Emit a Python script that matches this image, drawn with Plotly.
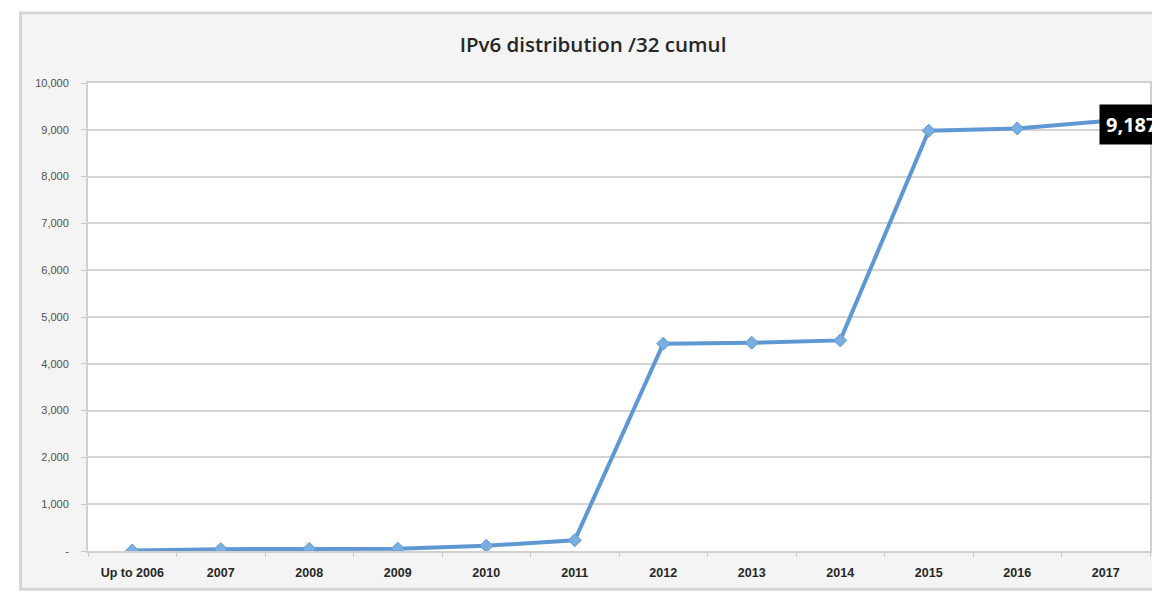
import plotly.graph_objects as go

categories = ["Up to 2006", "2007", "2008", "2009", "2010", "2011",
              "2012", "2013", "2014", "2015", "2016", "2017"]
values = [10, 40, 45, 50, 110, 230, 4430, 4450, 4500, 8980, 9030, 9187]
y_tickvals = [0, 1000, 2000, 3000, 4000, 5000, 6000, 7000, 8000, 9000, 10000]
y_ticktext = ["-", "1,000", "2,000", "3,000", "4,000", "5,000",
              "6,000", "7,000", "8,000", "9,000", "10,000"]
title_text = "IPv6 distribution /32 cumul"
last_label = "9,187"

OFF = 8  # page body margin
W, H = 1160 - OFF, 592 - OFF
# target page coordinates of plot area: x 87.5..1150, y 83..550.7
L = 87.5 - OFF
T = 83 - OFF
R = W - (1150 - OFF)
B = H - (550.7 - OFF)
pw = W - L - R
ph = H - T - B

fig = go.Figure()
fig.add_trace(go.Scatter(
    x=categories, y=values, mode="lines+markers",
    line=dict(color="#5f97d3", width=4),
    marker=dict(symbol="diamond", size=10, color="#7aaee2",
                line=dict(color="#5f97d3", width=1)),
    hoverinfo="x+y", showlegend=False,
))

# chart area background
fig.add_shape(type="rect", xref="paper", yref="paper", layer="below",
              x0=(20 - 87.5) / pw, x1=(1175 - 87.5) / pw,
              y0=-(589 - 550.7) / ph, y1=1 + (83 - 13) / ph,
              fillcolor="#f4f4f4", line=dict(color="#d6d6d6", width=3))
# plot area background
fig.add_shape(type="rect", xref="paper", yref="paper", layer="below",
              x0=0, x1=1, y0=0, y1=1,
              fillcolor="#ffffff", line=dict(width=0))

fig.add_annotation(x=len(categories) - 1, y=values[-1], xref="x", yref="y",
                   text="<b>" + last_label + "</b>",
                   showarrow=False, xanchor="left", yanchor="middle", xshift=-7, yshift=-3,
                   bgcolor="#000000", borderpad=6,
                   font=dict(color="white", size=20, family="Open Sans"))

fig.update_layout(
    width=W, height=H,
    margin=dict(l=L, r=R, t=T, b=B, autoexpand=False),
    paper_bgcolor="white", plot_bgcolor="white",
    title=dict(text=title_text, x=(593 - OFF) / W, xanchor="center", xref="container",
               y=1 - (45 - OFF) / H, yanchor="middle",
               font=dict(family="Open Sans", size=20.5, color="#262626", weight=600)),
    xaxis=dict(type="category", range=[-0.5, len(categories) - 0.5],
               showgrid=False, showline=True, linecolor="#d0d0d0", linewidth=2,
               mirror=True, ticks="outside", tickson="boundaries", ticklen=4,
               tickcolor="#c8c8c8", ticklabelstandoff=9,
               tickfont=dict(family="Liberation Sans", size=12.5, color="#262626", weight="bold")),
    yaxis=dict(range=[0, 10000], tickvals=y_tickvals, ticktext=y_ticktext,
               showgrid=True, gridcolor="#d4d4d4", gridwidth=2,
               showline=True, linecolor="#d0d0d0", linewidth=2, mirror=True,
               ticks="outside", ticklen=5, tickcolor="#c8c8c8", ticklabelstandoff=10,
               zeroline=False,
               tickfont=dict(family="Liberation Sans", size=11, color="#505050")),
)

fig.write_html("out.html")
